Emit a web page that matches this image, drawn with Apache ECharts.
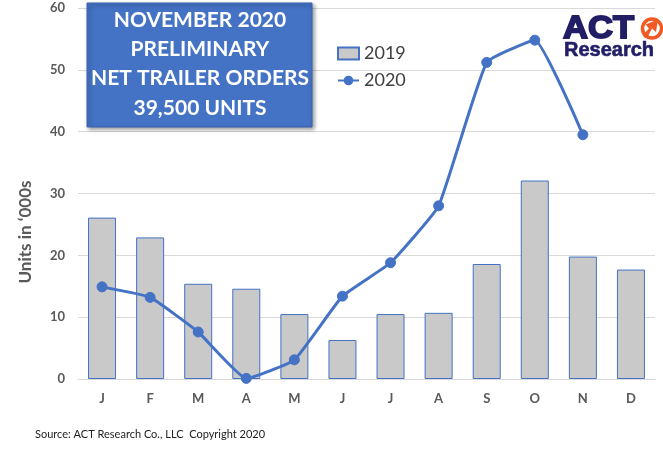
<!DOCTYPE html>
<html>
<head>
<meta charset="utf-8">
<script src="https://cdn.jsdelivr.net/npm/echarts@6/dist/echarts.min.js"></script>
<style>
html,body{margin:0;padding:0;background:#fff;}
#c{width:663px;height:449px;}
</style>
</head>
<body>
<div id="c"></div>
<script>
const categories = ['J','F','M','A','M','J','J','A','S','O','N','D'];
const orders2019 = [26.1, 22.9, 15.4, 14.6, 10.5, 6.3, 10.5, 10.7, 18.6, 32.1, 19.8, 17.7];
const orders2020 = [14.9, 13.2, 7.6, 0.1, 3.1, 13.4, 18.8, 28.0, 51.2, 54.8, 39.5, null];
const seriesNames = ['2019', '2020'];
const titleLines = ['NOVEMBER 2020', 'PRELIMINARY', 'NET TRAILER ORDERS', '39,500 UNITS'];
const yAxisName = 'Units in \u2018000s';
const sourceText = 'Source: ACT Research Co., LLC  Copyright 2020';

const chart = echarts.init(document.getElementById('c'), null, {renderer: 'canvas'});
const blue = '#4472C4';
const navy = '#221E66';
const orange = '#F15A24';

const titleGraphics = titleLines.map((t, i) => ({
  type: 'text',
  x: 200, y: 20 + i * 29.3,
  z: 101,
  style: {
    text: t, fill: '#fff', fontFamily: 'Lato', fontWeight: 'bold', fontSize: 21,
    align: 'center', verticalAlign: 'middle'
  }
}));

chart.setOption({
  animation: false,
  grid: {left: 78, right: 8, top: 8, bottom: 70},
  legend: {
    orient: 'vertical', left: 337, top: 44, padding: 0,
    itemWidth: 21, itemHeight: 12, itemGap: 8,
    textStyle: {fontFamily: 'Lato', fontSize: 18, color: '#404040', lineHeight: 19},
    data: [
      {name: seriesNames[0], icon: 'rect'},
      {name: seriesNames[1]}
    ]
  },
  xAxis: {
    type: 'category', data: categories,
    axisTick: {show: false},
    axisLine: {lineStyle: {color: '#D9D9D9', width: 1}},
    axisLabel: {fontFamily: 'Lato', fontWeight: 'bold', fontSize: 13, color: '#595959', margin: 13}
  },
  yAxis: {
    type: 'value', min: 0, max: 60, interval: 10,
    axisLine: {show: false}, axisTick: {show: false},
    splitLine: {lineStyle: {color: '#D9D9D9', width: 1}},
    axisLabel: {fontFamily: 'Lato', fontWeight: 'bold', fontSize: 13, color: '#595959', margin: 13}
  },
  series: [
    {
      name: seriesNames[0], type: 'bar', data: orders2019, barWidth: 28,
      itemStyle: {color: '#C9C9C9', borderColor: blue, borderWidth: 1}
    },
    {
      name: seriesNames[1], type: 'line', data: orders2020, smooth: 0.12,
      symbol: 'circle', symbolSize: 10,
      lineStyle: {color: blue, width: 3},
      itemStyle: {color: blue, borderColor: blue}
    }
  ],
  graphic: [
    {
      type: 'rect', z: 100,
      shape: {x: 87, y: 3, width: 225, height: 124},
      style: {fill: blue, stroke: '#3A64B0', lineWidth: 1,
        shadowBlur: 4, shadowOffsetX: 2, shadowOffsetY: 2, shadowColor: 'rgba(0,0,0,0.4)'}
    },
    ...titleGraphics,
    {
      type: 'text', x: 26, y: 232, rotation: Math.PI / 2,
      style: {text: yAxisName, fill: '#595959', fontFamily: 'Lato', fontWeight: 'bold', fontSize: 17,
        align: 'center', verticalAlign: 'middle'}
    },
    {
      type: 'text', z: 101, x: 563, y: 29, scaleX: 1.08,
      style: {text: 'ACT', fill: navy, stroke: navy, lineWidth: 1.8,
        fontFamily: 'Liberation Sans', fontWeight: 'bold', fontSize: 32, verticalAlign: 'middle'}
    },
    {
      type: 'circle', z: 101, shape: {cx: 652, cy: 28.5, r: 9.5},
      style: {fill: '#fff', stroke: orange, lineWidth: 3.5}
    },
    {
      type: 'polygon', z: 102,
      shape: {points: [[645,38],[642.5,35],[649,28.5],[645.5,24.5],[658,19.5],[656,32],[652,28.5],[647,38]]},
      style: {fill: orange}
    },
    {
      type: 'text', z: 101, x: 564, y: 50,
      style: {text: 'Research', fill: navy, stroke: navy, lineWidth: 0.6,
        fontFamily: 'Liberation Sans', fontWeight: 'bold', fontSize: 20, verticalAlign: 'middle'}
    },
    {
      type: 'text', x: 35, y: 434,
      style: {text: sourceText, fill: '#222', fontFamily: 'Lato', fontSize: 11, verticalAlign: 'middle'}
    }
  ]
});
</script>
</body>
</html>
